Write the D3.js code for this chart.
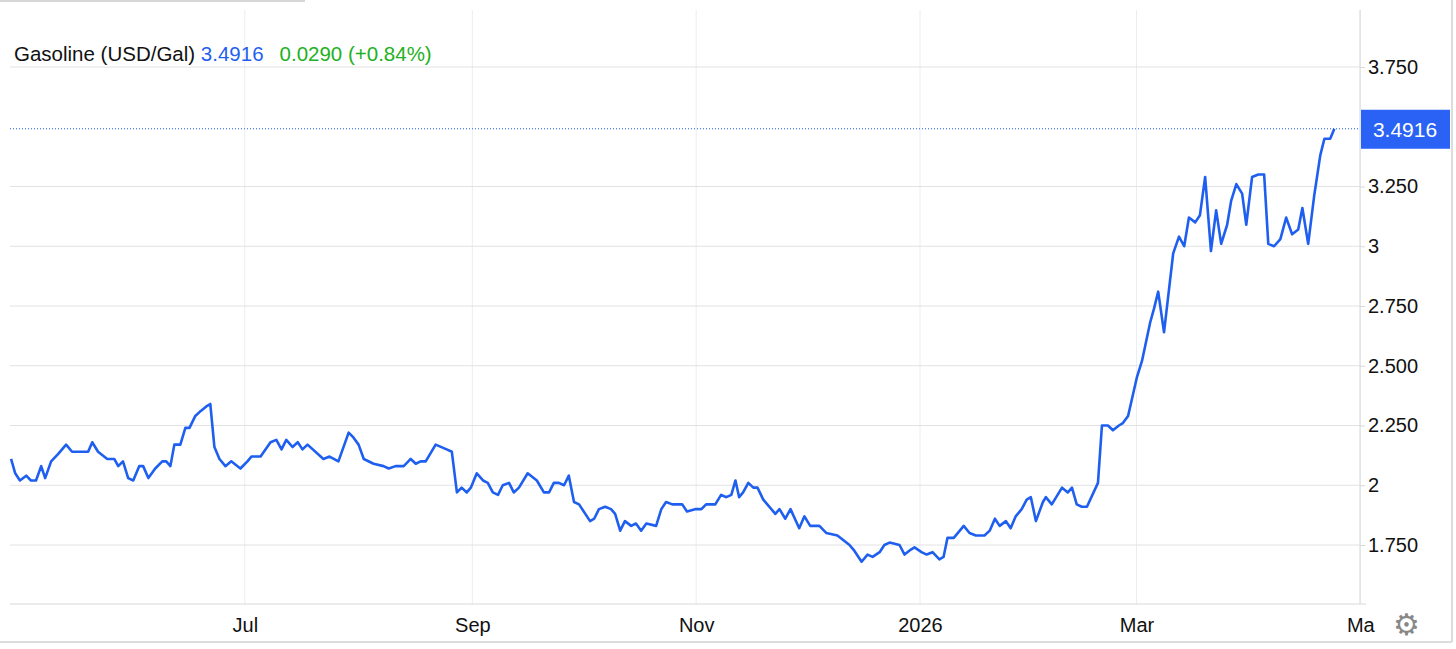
<!DOCTYPE html>
<html>
<head>
<meta charset="utf-8">
<script src="https://cdn.jsdelivr.net/npm/d3@7"></script>
<style>
  body { margin: 0; background: #fff; }
  text { font-family: "Liberation Sans", Arial, sans-serif; }
</style>
</head>
<body>
<div id="chart"></div>
<script>
const width = 1456, height = 649;

// days since 2025-04-28 and price (USD/Gal)
const days = [0.3,1.4,2.7,4.4,5.7,7.1,8.5,9.6,11.2,13.1,15.3,16.9,21.3,22.4,24.0,26.5,28.4,29.5,30.8,32.2,33.6,35.2,36.3,37.7,39.6,41.5,42.6,43.7,44.8,46.4,47.8,48.9,50.5,51.9,53.5,54.6,55.7,57.1,58.7,60.3,62.8,64.7,65.8,68.3,71.0,72.6,74.0,75.3,77.0,78.4,79.7,81.1,85.4,87.1,89.5,92.3,93.6,95.0,96.4,99.1,101.8,103.2,105.1,107.3,109.2,110.6,111.9,113.3,116.0,119.0,120.4,121.8,123.1,124.5,125.6,127.2,128.9,130.2,131.6,133.0,134.3,136.0,137.3,138.7,141.1,143.6,145.5,146.9,148.2,149.6,151.0,152.3,153.7,155.1,158.1,159.2,160.5,162.2,163.8,164.9,166.3,167.6,169.3,170.6,172.0,173.4,176.1,177.5,178.8,180.5,183.2,184.5,186.7,188.4,189.7,192.2,193.8,195.2,196.6,197.7,198.7,199.8,201.2,202.6,203.7,205.3,208.6,209.7,211.3,212.7,215.1,216.5,218.1,220.6,222.5,225.5,228.8,229.9,232.1,233.7,235.1,237.0,238.3,239.7,242.4,243.8,245.4,246.5,248.4,249.8,251.4,253.3,254.4,255.5,257.2,259.9,261.5,263.2,265.6,267.0,268.4,269.7,271.4,272.7,274.1,275.7,277.1,278.2,279.6,281.5,282.3,283.9,286.7,288.3,289.4,290.7,292.1,293.5,296.5,297.6,299.2,300.6,302.2,303.3,304.7,307.1,308.5,310.7,311.8,312.9,314.5,317.0,318.6,320.0,321.3,323.0,324.3,325.7,327.3,328.7,330.1,331.7,332.8,334.2,335.8,336.9,338.5,340.2,341.8,342.9,344.5,346.2,347.8,349.4,351.1,352.2,353.8,355.4,357.1,358.2,359.8,360.9];
const prices = [2.11,2.05,2.02,2.04,2.02,2.02,2.08,2.03,2.10,2.13,2.17,2.14,2.14,2.18,2.14,2.11,2.11,2.08,2.10,2.03,2.02,2.08,2.08,2.03,2.07,2.10,2.10,2.08,2.17,2.17,2.24,2.24,2.29,2.31,2.33,2.34,2.16,2.11,2.08,2.10,2.07,2.10,2.12,2.12,2.18,2.19,2.15,2.19,2.16,2.18,2.15,2.17,2.11,2.12,2.10,2.22,2.20,2.17,2.11,2.09,2.08,2.07,2.08,2.08,2.11,2.09,2.10,2.10,2.17,2.15,2.14,1.97,1.99,1.97,1.99,2.05,2.02,2.01,1.97,1.96,2.00,2.01,1.97,1.99,2.05,2.02,1.97,1.97,2.01,2.01,2.00,2.04,1.93,1.92,1.85,1.86,1.90,1.91,1.90,1.88,1.81,1.85,1.83,1.84,1.81,1.84,1.83,1.90,1.93,1.92,1.92,1.89,1.90,1.90,1.92,1.92,1.96,1.95,1.96,2.02,1.95,1.97,2.01,1.99,1.99,1.94,1.88,1.90,1.86,1.90,1.82,1.87,1.83,1.83,1.80,1.79,1.75,1.73,1.68,1.71,1.70,1.72,1.75,1.76,1.75,1.71,1.73,1.74,1.72,1.71,1.72,1.69,1.70,1.78,1.78,1.83,1.80,1.79,1.79,1.81,1.86,1.83,1.85,1.82,1.87,1.90,1.94,1.95,1.85,1.93,1.95,1.92,1.99,1.97,1.99,1.92,1.91,1.91,2.01,2.25,2.25,2.23,2.25,2.26,2.29,2.45,2.52,2.68,2.74,2.81,2.64,2.97,3.04,3.00,3.12,3.10,3.13,3.29,2.98,3.15,3.01,3.09,3.19,3.26,3.22,3.09,3.29,3.30,3.30,3.01,3.00,3.03,3.12,3.05,3.07,3.16,3.01,3.21,3.38,3.45,3.45,3.4916];

const yTicks = [1.75, 2, 2.25, 2.5, 2.75, 3, 3.25, 3.75];
const yTickLabels = ["1.750", "2", "2.250", "2.500", "2.750", "3", "3.250", "3.750"];
const monthTicks = ["2025-07-01", "2025-09-01", "2025-11-01", "2026-01-01", "2026-03-01", "2026-05-01"];
const monthLabels = ["Jul", "Sep", "Nov", "2026", "Mar", "Ma"];
const lastPrice = 3.4916;
const change = "0.0290 (+0.84%)";

const start = new Date(2025, 3, 28);
const data = days.map((d, i) => ({ date: d3.timeHour.offset(start, Math.round(d * 24)), price: prices[i] }));

const plot = { left: 10, right: 1360, bottom: 604 };

const xScale = d3.scaleTime()
    .domain([start, new Date(2026, 0, 1)])
    .range([10, 920]);
const yScale = d3.scaleLinear()
    .domain([1.75, 3.75])
    .range([545, 67]);

const svg = d3.select("#chart").append("svg").attr("width", width).attr("height", height);

// frame bits
svg.append("line").attr("x1", 0).attr("x2", 305).attr("y1", 1).attr("y2", 1).attr("stroke", "#d6d6d6").attr("stroke-width", 2);
svg.append("line").attr("x1", 1452).attr("x2", 1452).attr("y1", 0).attr("y2", 642).attr("stroke", "#dcdcdc").attr("stroke-width", 2);
svg.append("line").attr("x1", 0).attr("x2", 1452).attr("y1", 642).attr("y2", 642).attr("stroke", "#dcdcdc").attr("stroke-width", 2);

// vertical grid
svg.append("g").selectAll("line")
    .data(monthTicks)
    .join("line")
    .attr("x1", d => xScale(new Date(d + "T00:00:00")))
    .attr("x2", d => xScale(new Date(d + "T00:00:00")))
    .attr("y1", 10).attr("y2", plot.bottom)
    .attr("stroke", "#e8eef4");

// horizontal grid
svg.append("g").selectAll("line")
    .data(yTicks)
    .join("line")
    .attr("x1", plot.left).attr("x2", plot.right)
    .attr("y1", d => yScale(d)).attr("y2", d => yScale(d))
    .attr("stroke", "#e2e2e2");

// axes lines
svg.append("line").attr("x1", plot.right).attr("x2", plot.right).attr("y1", 10).attr("y2", plot.bottom).attr("stroke", "#d8d8d8");
svg.append("line").attr("x1", plot.left).attr("x2", 1366).attr("y1", plot.bottom).attr("y2", plot.bottom).attr("stroke", "#d8d8d8");

// right axis
const yAxis = d3.axisRight(yScale)
    .tickValues(yTicks)
    .tickFormat((d, i) => yTickLabels[i])
    .tickSize(5).tickPadding(3);
const yG = svg.append("g").attr("transform", `translate(${plot.right},0)`).call(yAxis);
yG.select(".domain").remove();
yG.selectAll(".tick line").attr("stroke", "#d8d8d8");
yG.selectAll(".tick text").attr("font-size", 20).attr("fill", "#111").attr("dy", "0.32em");

// bottom axis
const xAxis = d3.axisBottom(xScale)
    .tickValues(monthTicks.map(d => new Date(d + "T00:00:00")))
    .tickFormat((d, i) => monthLabels[i])
    .tickSize(0).tickPadding(14);
const xG = svg.append("g").attr("transform", `translate(0,${plot.bottom})`).call(xAxis);
xG.select(".domain").remove();
xG.selectAll(".tick text").attr("font-size", 20).attr("fill", "#111");

// last price dotted line
svg.append("line")
    .attr("x1", plot.left).attr("x2", plot.right)
    .attr("y1", yScale(lastPrice)).attr("y2", yScale(lastPrice))
    .attr("stroke", "#1d5fe8").attr("stroke-dasharray", "1,2");

// price line
svg.append("path")
    .datum(data)
    .attr("fill", "none")
    .attr("stroke", "#1f5ff0")
    .attr("stroke-width", 2.6)
    .attr("stroke-linejoin", "round")
    .attr("d", d3.line().x(d => xScale(d.date)).y(d => yScale(d.price)));

// price tag
svg.append("rect")
    .attr("x", plot.right + 1).attr("y", yScale(lastPrice) - 19)
    .attr("width", 89).attr("height", 39)
    .attr("fill", "#2962f5");
svg.append("text")
    .attr("x", plot.right + 45).attr("y", yScale(lastPrice) + 8)
    .attr("text-anchor", "middle").attr("font-size", 21).attr("fill", "#fff")
    .text(lastPrice.toFixed(4));

// header
const header = svg.append("text").attr("x", 14).attr("y", 61).attr("font-size", 20.5);
header.append("tspan").attr("fill", "#111").text("Gasoline (USD/Gal) ");
header.append("tspan").attr("fill", "#1f5ff0").text(lastPrice.toFixed(4));
header.append("tspan").attr("fill", "#22b122").attr("dx", 16).text(change);

// gear icon
svg.append("text")
    .attr("x", 1406).attr("y", 635)
    .attr("text-anchor", "middle").attr("font-size", 30)
    .attr("font-family", "DejaVu Sans").attr("fill", "#888")
    .text("\u2699");
</script>
</body>
</html>
